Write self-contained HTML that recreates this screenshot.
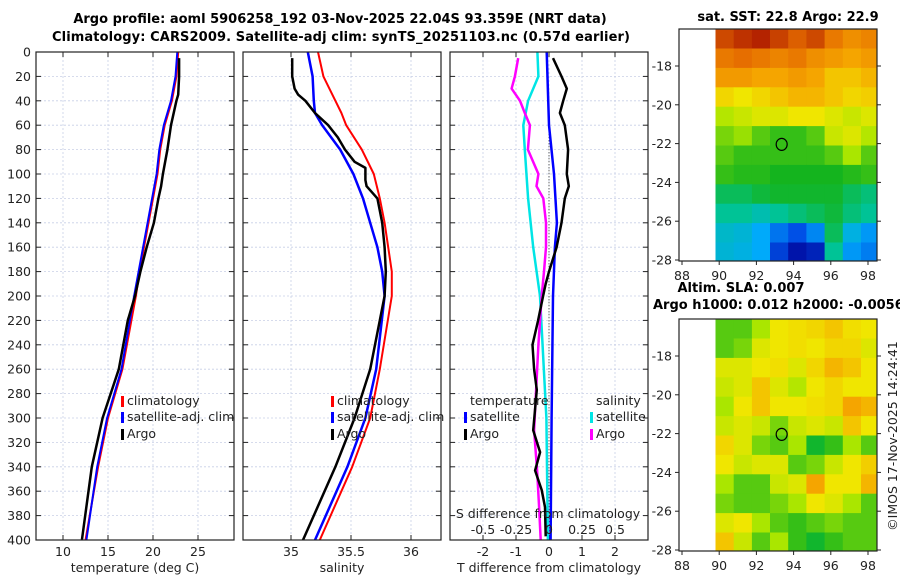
<!DOCTYPE html>
<html><head><meta charset="utf-8"><style>
html,body{margin:0;padding:0;background:#fff;}
svg text{font-family:"DejaVu Sans","Liberation Sans",sans-serif;fill:#222;}
.t{font-size:12.5px;}
.b{font-weight:bold;font-size:13px;fill:#000;}
</style></head><body>
<svg id="fig" width="900" height="580" viewBox="0 0 900 580" xmlns="http://www.w3.org/2000/svg">
<text class="b" x="340" y="23" text-anchor="middle">Argo profile: aoml 5906258_192 03-Nov-2025 22.04S 93.359E (NRT data)</text>
<text class="b" x="341" y="41" text-anchor="middle" textLength="578">Climatology: CARS2009. Satellite-adj clim: synTS_20251103.nc (0.57d earlier)</text>
<g id="p1"></g>
<g id="p2"></g>
<g id="p3"></g>
<g id="m1"></g>
<g id="m2"></g>
<text class="b" x="788" y="21" text-anchor="middle">sat. SST: 22.8 Argo: 22.9</text>
<text class="b" x="741" y="292" text-anchor="middle">Altim. SLA: 0.007</text>
<text class="b" x="653" y="309">Argo h1000: 0.012 h2000: -0.0056</text>
<text class="t" transform="translate(897,436) rotate(-90)" text-anchor="middle">©IMOS 17-Nov-2025 14:24:41</text>
</svg>
<script>
// ---- data ----
const depthTicks = [0,20,40,60,80,100,120,140,160,180,200,220,240,260,280,300,320,340,360,380,400];
const tempDepth = [0,20,40,60,80,100,120,140,160,180,200,260,300,340,400];
const tempClim  = [22.8,22.6,22.1,21.3,20.8,20.5,20.0,19.5,19.0,18.5,18.1,16.6,15.0,13.9,12.5];
const tempSat   = [22.7,22.5,22.0,21.2,20.7,20.4,19.9,19.4,18.9,18.4,17.9,16.5,14.9,13.8,12.6];
const argoTDepth = [5,20,35,40,60,80,100,110,120,140,160,180,200,220,260,300,340,400];
const argoTemp   = [22.9,22.9,22.8,22.6,22.0,21.6,21.1,20.9,20.6,20.1,19.3,18.6,18.0,17.2,16.2,14.4,13.2,12.1];
const salDepth = [0,20,40,50,60,80,100,120,140,160,180,200,260,300,340,400];
const salClim  = [35.225,35.27,35.37,35.42,35.46,35.59,35.69,35.74,35.78,35.81,35.84,35.84,35.74,35.66,35.51,35.24];
const salSat   = [35.14,35.18,35.19,35.2,35.26,35.41,35.52,35.60,35.66,35.72,35.76,35.78,35.71,35.62,35.47,35.20];
const argoSDepth = [5,20,30,35,40,50,60,70,80,90,95,100,105,110,120,140,160,180,200,260,300,340,400];
const argoSal    = [35.01,35.01,35.03,35.06,35.12,35.2,35.31,35.39,35.45,35.53,35.62,35.62,35.62,35.63,35.72,35.76,35.78,35.79,35.78,35.66,35.53,35.37,35.10];
const dTSatDepth = [0,60,100,140,160,200,300,400];
const dTSat      = [-0.07,0.0,0.15,0.24,0.18,0.12,0.08,0.05];
const dTArgoDepth = [5,20,30,40,50,60,80,100,110,120,140,160,180,190,200,220,240,260,277,310,328,343,359,373,397];
const dTArgo      = [0.12,0.38,0.54,0.43,0.33,0.48,0.58,0.54,0.6,0.48,0.38,0.23,0.0,-0.1,-0.18,-0.33,-0.5,-0.45,-0.37,-0.48,-0.27,-0.42,-0.22,-0.12,-0.1];
const dSSatDepth = [0,20,40,60,80,120,160,200,300,400];
const dSSat      = [-0.088,-0.08,-0.158,-0.195,-0.183,-0.158,-0.12,-0.068,-0.02,-0.008];
const dSArgoDepth = [5,20,30,40,50,60,80,100,110,120,140,160,180,200,240,277,310,343,373,400];
const dSArgo      = [-0.233,-0.258,-0.283,-0.22,-0.183,-0.145,-0.16,-0.08,-0.095,-0.043,-0.023,-0.023,-0.038,-0.055,-0.08,-0.098,-0.113,-0.09,-0.075,-0.063];
const sstGrid = [
[0.85,0.88,0.9,0.86,0.82,0.85,0.78,0.74,0.76],
[0.78,0.8,0.78,0.76,0.78,0.74,0.72,0.7,0.72],
[0.72,0.72,0.7,0.7,0.72,0.7,0.66,0.66,0.68],
[0.64,0.62,0.64,0.66,0.68,0.68,0.66,0.64,0.65],
[0.56,0.58,0.6,0.6,0.62,0.62,0.6,0.58,0.6],
[0.52,0.54,0.5,0.48,0.48,0.5,0.58,0.6,0.56],
[0.5,0.48,0.48,0.48,0.48,0.48,0.5,0.55,0.5],
[0.48,0.47,0.47,0.46,0.46,0.46,0.46,0.47,0.48],
[0.42,0.42,0.44,0.45,0.45,0.45,0.45,0.42,0.4],
[0.38,0.38,0.36,0.38,0.4,0.42,0.44,0.4,0.38],
[0.34,0.33,0.3,0.24,0.2,0.26,0.42,0.32,0.28],
[0.33,0.32,0.3,0.18,0.12,0.14,0.38,0.28,0.25]];
const slaGrid = [
[0.5,0.5,0.55,0.62,0.63,0.64,0.66,0.63,0.62],
[0.5,0.52,0.6,0.62,0.63,0.62,0.64,0.64,0.6],
[0.6,0.6,0.62,0.63,0.6,0.64,0.68,0.66,0.62],
[0.58,0.6,0.66,0.6,0.56,0.62,0.64,0.62,0.62],
[0.55,0.62,0.66,0.62,0.62,0.63,0.64,0.7,0.68],
[0.58,0.6,0.58,0.52,0.58,0.6,0.58,0.66,0.62],
[0.64,0.6,0.52,0.5,0.55,0.45,0.48,0.55,0.5],
[0.62,0.58,0.6,0.6,0.5,0.52,0.58,0.62,0.65],
[0.55,0.5,0.5,0.58,0.6,0.7,0.62,0.62,0.68],
[0.52,0.5,0.5,0.52,0.55,0.62,0.6,0.55,0.5],
[0.6,0.62,0.55,0.5,0.48,0.5,0.52,0.5,0.5],
[0.66,0.58,0.5,0.55,0.48,0.45,0.48,0.5,0.5]];
const latTicks = [-18,-20,-22,-24,-26,-28];
const lonTicks = [88,90,92,94,96,98];
const argoLon = 93.359, argoLat = -22.04;

// ---- helpers ----
const NS = "http://www.w3.org/2000/svg";
function mk(parent, tag, attrs, txt){
  const e = document.createElementNS(NS, tag);
  for (const k in attrs) e.setAttribute(k, attrs[k]);
  if (txt !== undefined) e.textContent = txt;
  parent.appendChild(e);
  return e;
}
const Y0 = 52, Y1 = 540;
const yD = d => Y0 + (d/400)*(Y1-Y0);

function panel(g, x0, x1, xScale, xtickVals, xtickLabels, xlabel, showY){
  depthTicks.forEach(d=>{
    const l = mk(g,'line',{x1:x0,x2:x1,y1:yD(d),y2:yD(d),stroke:'#c8cfe6','stroke-width':0.8,'stroke-dasharray':'2,2'});
    
    
    mk(g,'line',{x1:x0,x2:x0+5,y1:yD(d),y2:yD(d),stroke:'#222'});
    mk(g,'line',{x1:x1-5,x2:x1,y1:yD(d),y2:yD(d),stroke:'#222'});
    if (showY){
      const t = mk(g,'text',{x:x0-5,y:yD(d)+4.5,'text-anchor':'end',class:'t'}, String(d));
      
      
    }
  });
  xtickVals.forEach((v,i)=>{
    const x = xScale(v);
    const l = mk(g,'line',{x1:x,x2:x,y1:Y0,y2:Y1,stroke:'#c8cfe6','stroke-width':0.8,'stroke-dasharray':'2,2'});
    
    
    mk(g,'line',{x1:x,x2:x,y1:Y1-5,y2:Y1,stroke:'#222'});
    mk(g,'line',{x1:x,x2:x,y1:Y0,y2:Y0+5,stroke:'#222'});
    const t = mk(g,'text',{x:x,y:556,'text-anchor':'middle',class:'t'}, xtickLabels[i]);
    
    
  });
  const xl = mk(g,'text',{x:(x0+x1)/2,y:572,'text-anchor':'middle',class:'t'}, xlabel);
  
  
}
function frame(g,x0,x1){
  const r = mk(g,'rect',{x:x0,y:Y0,width:x1-x0,height:Y1-Y0,fill:'none',stroke:'#222','stroke-width':1.2});
  
  
}
function line(g, xs, ds, xScale, color, w, name){
  const pts = xs.map((v,i)=> xScale(v).toFixed(1)+','+yD(ds[i]).toFixed(1)).join(' ');
  const p = mk(g,'polyline',{points:pts,fill:'none',stroke:color,'stroke-width':w,'stroke-linejoin':'round'});
  
  
}
function legend(g, x, y, color, label, name){
  mk(g,'rect',{x:x-6,y:y-9,width:3,height:11,fill:color});
  const t = mk(g,'text',{x:x,y:y,class:'t'}, label);
  
  
}

// ---- panel 1 ----
const p1 = document.getElementById('p1');
const xT = v => 63 + (v-10)*9;
panel(p1, 36, 234, xT, [10,15,20,25], ['10','15','20','25'], 'temperature (deg C)', true);
line(p1, tempClim, tempDepth, xT, '#ff0000', 2, 'climatology-temperature-line');
line(p1, tempSat, tempDepth, xT, '#0000ff', 2, 'satellite-temperature-line');
line(p1, argoTemp, argoTDepth, xT, '#000', 2.5, 'argo-temperature-line');
frame(p1,36,234);
legend(p1,127,405,'#ff0000','climatology','legend-climatology');
legend(p1,127,421,'#0000ff','satellite-adj. clim','legend-satellite');
legend(p1,127,438,'#000','Argo','legend-argo');

// ---- panel 2 ----
const p2 = document.getElementById('p2');
const xS = v => 291 + (v-35)*120;
panel(p2, 243, 441, xS, [35,35.5,36], ['35','35.5','36'], 'salinity', false);
line(p2, salClim, salDepth, xS, '#ff0000', 2, 'climatology-salinity-line');
line(p2, salSat, salDepth, xS, '#0000ff', 2.5, 'satellite-salinity-line');
line(p2, argoSal, argoSDepth, xS, '#000', 2.5, 'argo-salinity-line');
frame(p2,243,441);
legend(p2,337,405,'#ff0000','climatology','legend-climatology');
legend(p2,337,421,'#0000ff','satellite-adj. clim','legend-satellite');
legend(p2,337,438,'#000','Argo','legend-argo');

// ---- panel 3 ----
const p3 = document.getElementById('p3');
const xD = v => 549 + v*33;
const xDS = v => 549 + v*4*33;
panel(p3, 450, 648, xD, [-2,-1,0,1,2], ['-2','-1','0','1','2'], 'T difference from climatology', false);
mk(p3,'line',{x1:549,x2:549,y1:yD(60),y2:Y1,stroke:'#333','stroke-width':1,'stroke-dasharray':'1,2'});
line(p3, dSSat, dSSatDepth, xDS, '#00e5e5', 2.5, 'satellite-salinity-difference-line');
line(p3, dSArgo, dSArgoDepth, xDS, '#ff00ff', 2.5, 'argo-salinity-difference-line');
line(p3, dTSat, dTSatDepth, xD, '#0000ff', 2.5, 'satellite-temperature-difference-line');
line(p3, dTArgo, dTArgoDepth, xD, '#000', 2.5, 'argo-temperature-difference-line');
frame(p3,450,648);
const st = mk(p3,'text',{x:548,y:518,'text-anchor':'middle',class:'t'},'S difference from climatology');


[-0.5,-0.25,0,0.25,0.5].forEach(v=>{
  const t = mk(p3,'text',{x:xDS(v),y:534,'text-anchor':'middle',class:'t'}, String(v));
  
  
});
{
  const t = mk(p3,'text',{x:470,y:405,class:'t'},'temperature');
  
  
  const s = mk(p3,'text',{x:596,y:405,class:'t'},'salinity');
  
  
}
legend(p3,470,421,'#0000ff','satellite','legend-temperature-satellite');
legend(p3,470,438,'#000','Argo','legend-temperature-argo');
legend(p3,596,421,'#00e5e5','satellite','legend-salinity-satellite');
legend(p3,596,438,'#ff00ff','Argo','legend-salinity-argo');

// ---- maps ----
const cmapStops = [
 [0.0,[0,0,120]],[0.12,[0,20,170]],[0.2,[0,80,230]],[0.3,[0,170,250]],
 [0.38,[0,195,150]],[0.46,[20,180,30]],[0.55,[170,230,0]],[0.62,[240,230,0]],
 [0.7,[245,165,0]],[0.8,[230,110,0]],[0.9,[180,35,0]],[1.0,[140,10,0]]];
function cmap(v){
  v = Math.max(0,Math.min(1,v));
  for (let i=1;i<cmapStops.length;i++){
    if (v <= cmapStops[i][0]){
      const a = cmapStops[i-1], b = cmapStops[i];
      const f = (v-a[0])/(b[0]-a[0]);
      const c = a[1].map((x,k)=>Math.round(x+(b[1][k]-x)*f));
      return 'rgb('+c.join(',')+')';
    }
  }
  return 'rgb(140,10,0)';
}
function map(g, top, grid, cellName){
  const left = 679, right = 877, bottom = top + 232;
  const lonX = lon => 682 + (lon-88)*18.6;
  const latY = lat => (top+37) + (-18-lat)*19.4;
  const lon0 = 89.8, lon1 = 98.6, lat0 = -16.1, lat1 = -28.1;
  const nr = grid.length, nc = grid[0].length;
  const dlon = (lon1-lon0)/nc, dlat = (lat0-lat1)/nr;
  grid.forEach((row,i)=>row.forEach((v,j)=>{
    const xa = lonX(lon0+j*dlon), xb = lonX(lon0+(j+1)*dlon);
    const ya = latY(lat0-i*dlat), yb = latY(lat0-(i+1)*dlat);
    const r = mk(g,'rect',{x:xa.toFixed(1),y:ya.toFixed(1),width:(xb-xa+0.6).toFixed(1),height:(yb-ya+0.6).toFixed(1),fill:cmap(v)});
    
    
  }));
  mk(g,'rect',{x:right,y:top-2,width:20,height:240,fill:'#fff'});
  mk(g,'rect',{x:left,y:top-10,width:220,height:10,fill:'#fff'});
  mk(g,'rect',{x:left,y:bottom,width:220,height:8,fill:'#fff'});
  const f = mk(g,'rect',{x:left,y:top,width:right-left,height:bottom-top,fill:'none',stroke:'#222','stroke-width':1.2});
  
  
  latTicks.forEach(l=>{
    const y = latY(l);
    mk(g,'line',{x1:left-4,x2:left,y1:y,y2:y,stroke:'#222'});
    mk(g,'line',{x1:right,x2:right+4,y1:y,y2:y,stroke:'#222'});
    const t = mk(g,'text',{x:left-7,y:y+4.5,'text-anchor':'end',class:'t'}, String(l));
    
    
  });
  lonTicks.forEach(l=>{
    const x = lonX(l);
    mk(g,'line',{x1:x,x2:x,y1:bottom,y2:bottom+4,stroke:'#222'});
    const t = mk(g,'text',{x:x,y:bottom+19,'text-anchor':'middle',class:'t'}, String(l));
    
    
  });
  const c = mk(g,'ellipse',{cx:lonX(argoLon),cy:latY(argoLat),rx:5.5,ry:6,fill:'none',stroke:'#000','stroke-width':1.2});
  
  
}
map(document.getElementById('m1'), 29, sstGrid, 'sst-cell');
map(document.getElementById('m2'), 319, slaGrid, 'sla-cell');
</script>
</body></html>
